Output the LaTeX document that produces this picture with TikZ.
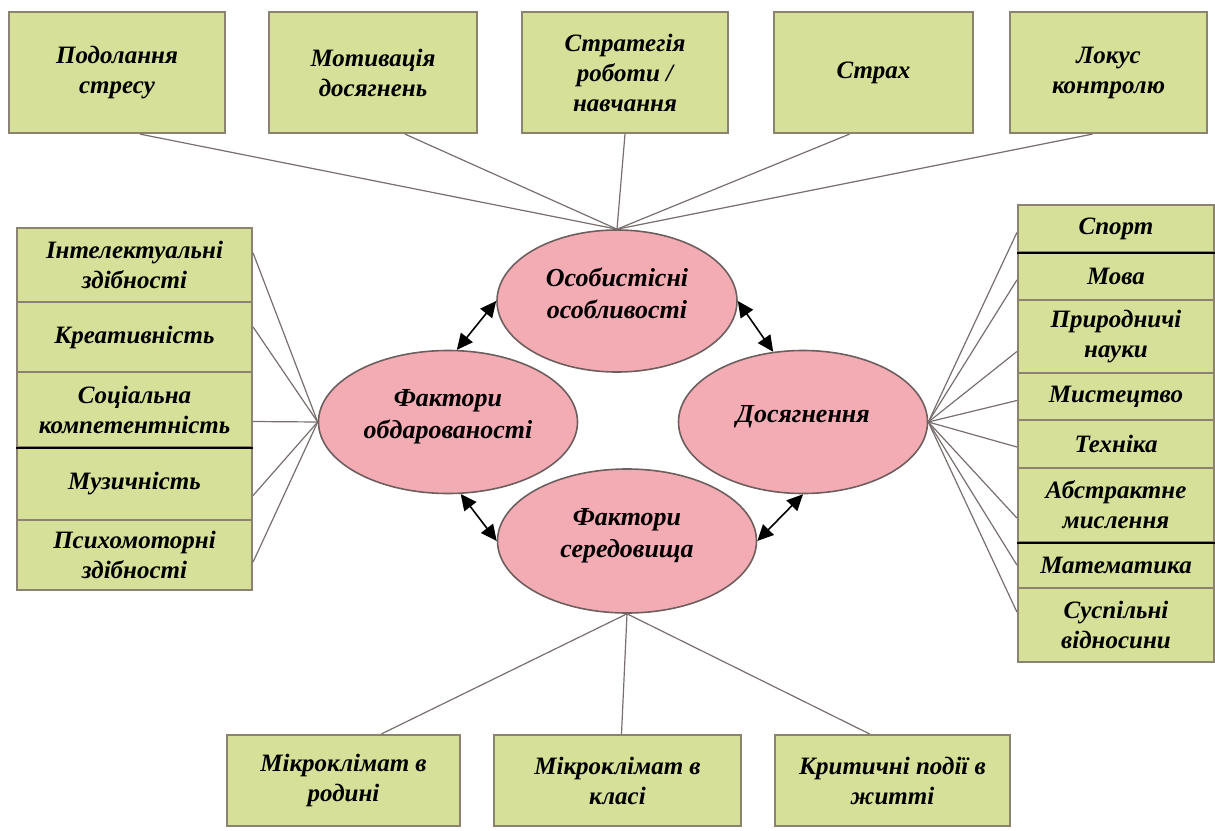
\documentclass[tikz,border=0pt]{standalone}
\usepackage{fontspec}
\setmainfont{Liberation Serif}
\usetikzlibrary{arrows.meta,shapes.geometric}
\definecolor{boxgreen}{RGB}{214,224,152}
\definecolor{boxedge}{RGB}{140,130,112}
\definecolor{ovalpink}{RGB}{243,172,180}
\definecolor{ovaledge}{RGB}{110,95,95}
\definecolor{linkgray}{RGB}{120,110,110}

\begin{document}
\begin{tikzpicture}[x=0.5pt,y=-0.5pt]
    \tikzset{box/.style = {shape=rectangle, draw=boxedge, line width=1.1pt, fill=boxgreen, align=center, inner sep=2pt, font=\fontsize{12.5}{15}\selectfont\bfseries\itshape}}
    \tikzset{oval/.style = {shape=ellipse, draw=ovaledge, line width=0.8pt, fill=ovalpink, align=center, inner sep=0pt, text depth=8pt, font=\fontsize{13}{16}\selectfont\bfseries\itshape}}
    \tikzset{link/.style = {draw=linkgray, line width=0.6pt}}
    \tikzset{both/.style = {draw=black, line width=0.8pt, {Triangle[length=8pt,width=7.5pt]}-{Triangle[length=8pt,width=7.5pt]}}}

    \useasboundingbox (0,0) rectangle (1215,830);

    % ovals
    \node[oval, minimum width=120pt, minimum height=71pt] (pers) at (617,301) {Особистісні\\особливості};
    \node[oval, minimum width=129.5pt, minimum height=71.5pt] (gift) at (448,422) {Фактори\\обдарованості};
    \node[oval, minimum width=124.5pt, minimum height=71.5pt] (perf) at (803,422) {Досягнення};
    \node[oval, minimum width=129.5pt, minimum height=72pt] (env) at (627,541) {Фактори\\середовища};

    % top boxes
    \node[box, minimum width=108pt, minimum height=60.5pt] (t1) at (117,72.5) {Подолання\\стресу};
    \node[box, minimum width=104pt, minimum height=60.5pt] (t2) at (373,72.5) {Мотивація\\досягнень};
    \node[box, minimum width=103pt, minimum height=60.5pt] (t3) at (625,72.5) {Стратегія\\роботи /\\навчання};
    \node[box, minimum width=99.5pt, minimum height=60.5pt] (t4) at (873.5,72.5) {Страх};
    \node[box, minimum width=98.5pt, minimum height=60.5pt] (t5) at (1108.5,72.5) {Локус\\контролю};

    % left column
    \node[box, minimum width=117.5pt, minimum height=37pt] (l1) at (134.5,265) {Інтелектуальні\\здібності};
    \node[box, minimum width=117.5pt, minimum height=35pt] (l2) at (134.5,337) {Креативність};
    \node[box, minimum width=117.5pt, minimum height=37.5pt] (l3) at (134.5,409.5) {Соціальна\\компетентність};
    \node[box, minimum width=117.5pt, minimum height=36.5pt] (l4) at (134.5,483.5) {Музичність};
    \node[box, minimum width=117.5pt, minimum height=35pt] (l5) at (134.5,555) {Психомоторні\\здібності};

    % right column
    \node[box, minimum width=98pt, minimum height=23.5pt] (r1) at (1116,228.5) {Спорт};
    \node[box, minimum width=98pt, minimum height=24pt] (r2) at (1116,276) {Мова};
    \node[box, minimum width=98pt, minimum height=36.5pt] (r3) at (1116,336.5) {Природничі\\науки};
    \node[box, minimum width=98pt, minimum height=23.5pt] (r4) at (1116,396.5) {Мистецтво};
    \node[box, minimum width=98pt, minimum height=24pt] (r5) at (1116,444) {Техніка};
    \node[box, minimum width=98pt, minimum height=37pt] (r6) at (1116,505) {Абстрактне\\мислення};
    \node[box, minimum width=98pt, minimum height=23pt] (r7) at (1116,565) {Математика};
    \node[box, minimum width=98pt, minimum height=37pt] (r8) at (1116,625) {Суспільні\\відносини};

    % bottom boxes
    \node[box, minimum width=116.5pt, minimum height=45.5pt] (b1) at (343.5,780.5) {Мікроклімат в\\родині};
    \node[box, minimum width=123.5pt, minimum height=45.5pt] (b2) at (617.5,780.5) {Мікроклімат в\\класі};
    \node[box, minimum width=117.5pt, minimum height=45.5pt] (b3) at (892.5,780.5) {Критичні події в\\житті};

    % dark separators
    \draw[black, line width=1.2pt] (l3.south west) -- (l3.south east);
    \draw[black, line width=1.2pt] (r1.south west) -- (r1.south east);
    \draw[black, line width=1.2pt] (r6.south west) -- (r6.south east);

    % links
    \draw[link] ([xshift=11.5pt]t1.south) -- (pers.north);
    \draw[link] ([xshift=16pt]t2.south) -- (pers.north);
    \draw[link] (t3.south) -- (pers.north);
    \draw[link] ([xshift=-12pt]t4.south) -- (pers.north);
    \draw[link] ([xshift=-8pt]t5.south) -- (pers.north);

    \draw[link] ([yshift=6pt]l1.east) -- (gift.west);
    \draw[link] ([yshift=5pt]l2.east) -- (gift.west);
    \draw[link] ([yshift=-6pt]l3.east) -- (gift.west);
    \draw[link] ([yshift=-6pt]l4.east) -- (gift.west);
    \draw[link] ([yshift=-3.5pt]l5.east) -- (gift.west);

    \draw[link] ([yshift=-2pt]r1.west) -- (perf.east);
    \draw[link] ([yshift=-2pt]r2.west) -- (perf.east);
    \draw[link] ([yshift=-7.5pt]r3.west) -- (perf.east);
    \draw[link] ([yshift=-2pt]r4.west) -- (perf.east);
    \draw[link] ([yshift=-1.5pt]r5.west) -- (perf.east);
    \draw[link] ([yshift=-6.5pt]r6.west) -- (perf.east);
    \draw[link] (r7.west) -- (perf.east);
    \draw[link] ([yshift=6.5pt]r8.west) -- (perf.east);

    \draw[link] (env.south) -- ([xshift=19pt]b1.north);
    \draw[link] (env.south) -- ([xshift=2pt]b2.north);
    \draw[link] (env.south) -- ([xshift=-11.5pt]b3.north);

    % arrows
    \draw[both] (gift.83) -- (pers.west);
    \draw[both] (pers.east) -- (perf.113);
    \draw[both] (gift.-80) -- (env.west);
    \draw[both] (perf.south) -- (env.east);
\end{tikzpicture}
\end{document}
